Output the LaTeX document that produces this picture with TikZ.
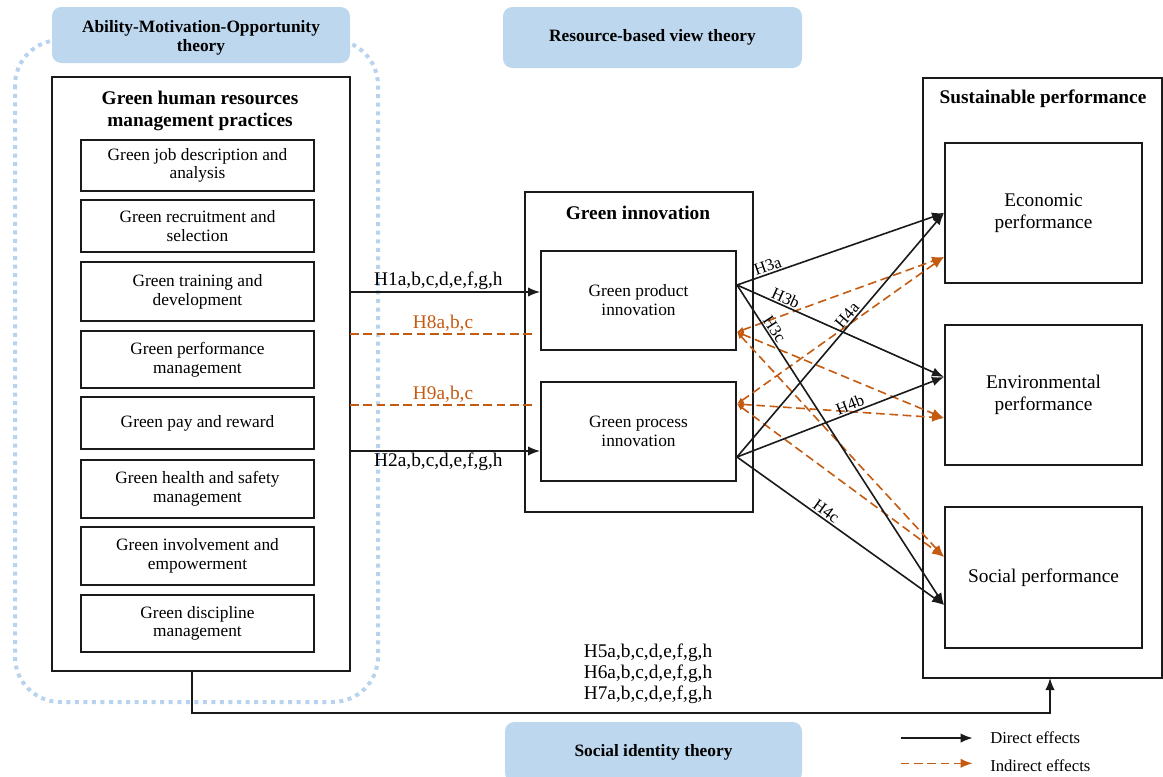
\documentclass[tikz,border=0pt]{standalone}
\usepackage{fontspec}
\setmainfont{Liberation Serif}
\usepackage{tikz}
\usetikzlibrary{arrows.meta,positioning,calc}
\definecolor{ink}{HTML}{1A1A1A}
\definecolor{theorybg}{HTML}{BDD7EE}
\definecolor{amodots}{HTML}{B7D3EE}
\definecolor{effectorange}{HTML}{C55A11}
\tikzset{
  framebox/.style={draw=ink,line width=1.4pt,fill=white,inner sep=0pt},
  itembox/.style={draw=ink,line width=1.4pt,fill=white,align=center,
                  inner sep=2pt,minimum width=174.75pt,
                  font=\fontsize{13}{14}\selectfont},
  innobox/.style={draw=ink,line width=1.4pt,fill=white,align=center,
                  minimum width=146.25pt,minimum height=74.25pt,
                  font=\fontsize{13}{14.25}\selectfont},
  perfbox/.style={draw=ink,line width=1.4pt,fill=white,align=center,
                  minimum width=147.75pt,minimum height=105pt,
                  font=\fontsize{14.5}{16.5}\selectfont},
  headtxt/.style={align=center,inner sep=0pt,
                  font=\fontsize{14.5}{16.5}\selectfont\bfseries},
  theory/.style={fill=theorybg,rounded corners=7pt,align=center,inner sep=0pt,
                 font=\fontsize{13}{14.25}\selectfont\bfseries},
  amoframe/.style={draw=amodots,line width=3pt,dash pattern=on 3pt off 3.4pt,
                   rounded corners=34pt},
  direct/.style={-{Latex[length=9pt,width=7pt]},line width=1.2pt,draw=ink},
  indirline/.style={dash pattern=on 6.5pt off 3.5pt,line width=1.2pt,draw=effectorange},
  indirarr/.style={indirline,{Latex[length=5pt,width=4.5pt]}-{Latex[length=9pt,width=7pt]}},
  hlabel/.style={inner sep=1pt,font=\fontsize{14.5}{15.75}\selectfont},
  pathlabel/.style={sloped,above,inner sep=1pt,font=\fontsize{12.5}{13}\selectfont},
  legtxt/.style={inner sep=0pt,font=\fontsize{12.5}{14}\selectfont}
}

\begin{document}
\begin{tikzpicture}[x=0.75pt,y=-0.75pt]
  \useasboundingbox (0,0) rectangle (1163,776);

  % theory frame and labels
  \draw[amoframe] (15,40) rectangle (378,702);
  \node[theory,minimum width=223.5pt,minimum height=42pt] (amo) at (201,35) {};
  \node[theory,fill=none] (amotxt) at (201,38) {Ability-Motivation-Opportunity\\theory};
  \node[theory,minimum width=224.25pt,minimum height=45.75pt] (rbv) at (652.5,37.5)
    {Resource-based view theory};
  \node[theory,minimum width=222.75pt,minimum height=45pt] (sit) at (653.5,752)
    {Social identity theory};

  % GHRM practices
  \node[framebox,minimum width=223.5pt,minimum height=445.5pt] (ghrm) at (201,374) {};
  \node[headtxt] (ghrmtitle) at (200,111) {Green human resources\\management practices};
  \foreach \i/\y/\h/\txt in {
      1/165.5/38.25pt/{Green job description and\\analysis},
      2/226/39pt/{Green recruitment and\\selection},
      3/291.5/44.25pt/{Green training and\\development},
      4/359.5/42.75pt/{Green performance\\management},
      5/423/39pt/{Green pay and reward},
      6/489/43.5pt/{Green health and safety\\management},
      7/556/43.5pt/{Green involvement and\\empowerment},
      8/623.5/42.75pt/{Green discipline\\management}} {
    \node[itembox,minimum height=\h] (hrm\i) at (197.5,\y) {\txt};
  }

  % green innovation
  \node[framebox,minimum width=171pt,minimum height=240pt] (innov) at (639,352) {};
  \node[headtxt] (innovtitle) at (638,213) {Green innovation};
  \node[innobox] (prod) at (638.5,300.5) {Green product\\innovation};
  \node[innobox] (proc) at (638.5,431.5) {Green process\\innovation};

  % sustainable performance
  \node[framebox,minimum width=179.25pt,minimum height=450pt] (sust) at (1042.5,378) {};
  \node[headtxt] (susttitle) at (1043,99) {Sustainable performance};
  \node[perfbox] (econ) at (1043.5,213) {Economic\\performance};
  \node[perfbox] (envi) at (1043.5,395) {Environmental\\performance};
  \node[perfbox,minimum height=105.75pt] (soci) at (1043.5,577.5) {Social performance};

  % GHRM -> innovation
  \coordinate (hOne) at (350,292);
  \coordinate (hEight) at (350,334);
  \coordinate (hNine) at (350,405);
  \coordinate (hTwo) at (350,451);
  \draw[direct] (hOne) -- (hOne -| prod.west)
    node[hlabel,midway,above,xshift=-5pt] {H1a,b,c,d,e,f,g,h};
  \draw[indirline] (hEight) -- ([xshift=-3pt]hEight -| prod.west)
    node[hlabel,midway,above,text=effectorange] {H8a,b,c};
  \draw[indirline] (hNine) -- ([xshift=-3pt]hNine -| proc.west)
    node[hlabel,midway,above,text=effectorange] {H9a,b,c};
  \draw[direct] (hTwo) -- (hTwo -| proc.west)
    node[hlabel,midway,below,xshift=-5pt] {H2a,b,c,d,e,f,g,h};

  % innovation -> performance
  \coordinate (prodA) at (737,285);
  \coordinate (prodB) at (737,332);
  \coordinate (procA) at (737,457);
  \coordinate (procB) at (737,404);
  \coordinate (econA) at (944,213);
  \coordinate (econB) at (944,257);
  \coordinate (enviA) at (944,377);
  \coordinate (enviB) at (944,418);
  \coordinate (sociA) at (944,605);
  \coordinate (sociB) at (944,557);

  \draw[indirarr] (prodB) -- (econB);
  \draw[indirarr] (prodB) -- (enviB);
  \draw[indirarr] (prodB) -- (sociB);
  \draw[indirarr] (procB) -- (econB);
  \draw[indirarr] (procB) -- (enviB);
  \draw[indirarr] (procB) -- (sociB);

  \draw[direct] (prodA) -- (econA) node[pathlabel,pos=0.16] {H3a};
  \draw[direct] (prodA) -- (enviA) node[pathlabel,pos=0.22] {H3b};
  \draw[direct] (prodA) -- (sociA) node[pathlabel,pos=0.15] {H3c};
  \draw[direct] (procA) -- (econA) node[pathlabel,pos=0.56] {H4a};
  \draw[direct] (procA) -- (enviA) node[pathlabel,pos=0.56] {H4b};
  \draw[direct] (procA) -- (sociA) node[pathlabel,pos=0.41] {H4c};

  % GHRM -> sustainable performance
  \coordinate (ghrmfoot) at (192,671);
  \coordinate (sustfoot) at (1050,678);
  \draw[direct] (ghrmfoot) -- ++(0,42) -| (sustfoot);
  \node[hlabel,align=center] (hFive) at (648,674)
    {H5a,b,c,d,e,f,g,h\\H6a,b,c,d,e,f,g,h\\H7a,b,c,d,e,f,g,h};

  % legend
  \node[legtxt,anchor=west] (lgdirect) at (990,738) {Direct effects};
  \node[legtxt,anchor=west] (lgindirect) at (990,766) {Indirect effects};
  \draw[direct] ([xshift=-67pt]lgdirect.west) -- ([xshift=-13pt]lgdirect.west);
  \draw[indirline,-{Latex[length=9pt,width=7pt]}]
    ([xshift=-67pt,yshift=2pt]lgindirect.west) -- ([xshift=-13pt,yshift=2pt]lgindirect.west);
\end{tikzpicture}
\end{document}
